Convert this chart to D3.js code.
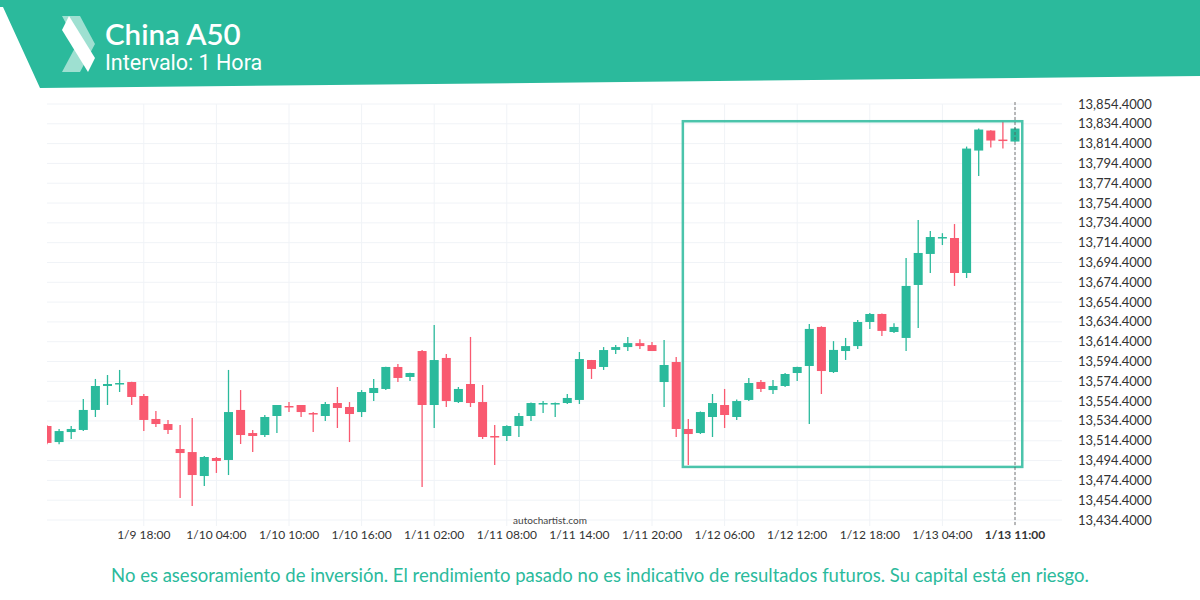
<!DOCTYPE html>
<html>
<head>
<meta charset="utf-8">
<script src="https://cdn.jsdelivr.net/npm/d3@7"></script>
<style>
body { margin: 0; background: #fff; }
text { font-family: Lato, "Open Sans", sans-serif; }
</style>
</head>
<body>
<script>
// candles: open, high, low, close
var opens  = [13529.3,13513.1,13523.2,13525.3,13545.5,13569.7,13571.7,13573.7,13559.6,13536.4,13531.3,13506.1,13503,13478.8,13497,13495,13545.5,13522.2,13520.2,13539.4,13549.5,13550.5,13542.4,13539.4,13552.5,13548.5,13543.4,13562.6,13566.7,13588.9,13578.8,13605,13550.5,13598,13553.5,13571.7,13553.5,13519.2,13519.2,13529.3,13539.4,13551.5,13551.5,13552.5,13555.6,13595.9,13588.9,13606.1,13609,13613,13611,13573.7,13593.9,13526.3,13522.2,13538.4,13550.5,13538.4,13555.6,13573.7,13565.6,13569.7,13582.8,13589.9,13629.3,13583.8,13605,13610,13634.3,13642.4,13624.2,13618.2,13671.7,13703,13719.1,13719.1,13683.8,13807.4,13827.6,13818.5,13816.5];
var highs  = [13530,13526.3,13529.3,13556.5,13576.8,13580.8,13585.9,13574,13561.6,13544.4,13535.4,13530.3,13537.4,13499,13498,13585.9,13565.6,13525.3,13540.4,13550.5,13553.5,13550.5,13543.4,13553.5,13568.7,13553.5,13565.6,13576.8,13589,13592,13583,13606,13631.3,13602,13568.7,13619.2,13570.7,13530.3,13530,13542.4,13553,13554.5,13553,13561.6,13604,13596,13609,13611,13619.2,13617,13614,13616.1,13599,13536.4,13544,13561.6,13566.7,13556,13577.8,13575.7,13575.7,13582.8,13589,13632.3,13630,13615,13618.2,13636.3,13643.4,13643,13633,13698.9,13737.3,13726.2,13724,13733.2,13811.4,13829.6,13828,13836.6,13830.6];
var lows   = [13511,13511,13516.2,13524.3,13538.4,13550.5,13563.6,13550.5,13524.3,13528.3,13521.2,13456.6,13448.5,13468.7,13481.9,13479.8,13511.1,13503,13518.2,13522.2,13543.4,13538.4,13523.2,13534.4,13527.3,13513.1,13538.4,13554.5,13565.6,13573.7,13574.7,13467.7,13527.3,13548.5,13552.5,13548.5,13516.2,13489.9,13514.2,13518.2,13534.4,13542.4,13538.4,13551.5,13551.5,13576.8,13585.9,13602,13605,13607,13605,13548.5,13518.2,13489.9,13521.2,13518.2,13527.3,13535.4,13554.5,13563.6,13561.6,13568.7,13574.7,13531.3,13561.6,13582.8,13596,13607,13627.3,13620.2,13623.2,13605,13628.3,13683.8,13712,13670.7,13678.7,13781.7,13810.4,13809.4,13816];
var closes = [13512.2,13524.2,13526.3,13545.5,13569.7,13571.7,13572.7,13558.6,13535.4,13531.3,13525.3,13502,13479.8,13498,13494,13543.4,13520.2,13519.2,13538.4,13550.5,13548.5,13543.4,13541.4,13551.5,13547.5,13541.4,13563.6,13567.7,13588.9,13577.8,13582.8,13550.5,13595.9,13554.5,13566.7,13552.5,13518.2,13518.2,13529.3,13539.4,13552.5,13552.5,13552.5,13557.6,13596.9,13586.9,13606,13609,13613,13610,13605,13590.9,13526.3,13521.2,13543.4,13552.5,13540.4,13554.5,13572.7,13566.7,13569.7,13581.8,13588.9,13627.3,13584.8,13606.1,13610,13634.3,13642.4,13625.3,13629.3,13670.7,13704,13720.1,13720.1,13683.8,13809.4,13828.6,13817.5,13817.5,13829.6];
var xTickIdx = [8,14,20,26,32,38,44,50,56,62,68,74,80];
var xTickLabels = ["1/9 18:00","1/10 04:00","1/10 10:00","1/10 16:00","1/11 02:00","1/11 08:00","1/11 14:00","1/11 20:00","1/12 06:00","1/12 12:00","1/12 18:00","1/13 04:00","1/13 11:00"];
var yTicks = [13434.4,13454.4,13474.4,13494.4,13514.4,13534.4,13554.4,13574.4,13594.4,13614.4,13634.4,13654.4,13674.4,13694.4,13714.4,13734.4,13754.4,13774.4,13794.4,13814.4,13834.4,13854.4];
var boxRange = [52.55, 80.6, 13488, 13837];

var W = 1200, H = 600;
var green = "#2bba9c", red = "#f95a70";
var svg = d3.select("body").append("svg").attr("width", W).attr("height", H);

svg.append("defs").append("clipPath").attr("id", "plot")
  .append("rect").attr("x", 47).attr("y", 95).attr("width", 1015).attr("height", 440);

// header
svg.append("polygon").attr("points", "0,0 1200,0 1200,76 40,88 3,7 0,7").attr("fill", green);
svg.append("polygon").attr("points", "62,16 80,16 95,44 77,44").attr("fill", "#9ee0d1");
svg.append("polygon").attr("points", "77,44 95,44 80,72 62,72").attr("fill", "#9ee0d1");
svg.append("polygon").attr("points", "62,30 69,16 95,58 88,72").attr("fill", "#fff");
svg.append("text").attr("x", 105).attr("y", 45).attr("fill", "#fff").attr("font-size", 29.5).attr("font-weight", 600).text("China A50");
svg.append("text").attr("x", 105).attr("y", 70).attr("fill", "#fff").attr("font-size", 21.5)
  .style("font-family", "Roboto, sans-serif").text("Intervalo: 1 Hora");

var x = d3.scaleLinear().domain([0, 80]).range([47, 1015]);
var y = d3.scaleLinear().domain([13434.4, 13854.4]).range([520, 104]);
var bw = 9;

// grid
svg.append("g").selectAll("line").data(yTicks).enter().append("line")
  .attr("x1", 47).attr("x2", 1062).attr("y1", d => y(d)).attr("y2", d => y(d))
  .attr("stroke", "#f0f3f7");
svg.append("g").selectAll("line").data(xTickIdx).enter().append("line")
  .attr("x1", d => x(d)).attr("x2", d => x(d)).attr("y1", 104).attr("y2", 526)
  .attr("stroke", "#f0f3f7");

svg.append("g").selectAll("text").data(yTicks).enter().append("text")
  .attr("x", 1078).attr("y", d => y(d) + 4.5).attr("font-size", 13).attr("fill", "#333")
  .text(d => d3.format(",.4f")(d));
svg.append("g").selectAll("text").data(xTickLabels).enter().append("text")
  .attr("x", (d, i) => x(xTickIdx[i])).attr("y", 539).attr("text-anchor", "middle")
  .attr("font-size", 12).attr("fill", "#333")
  .attr("font-weight", (d, i) => i === xTickLabels.length - 1 ? 700 : 400)
  .text(d => d);

svg.append("text").attr("x", 550).attr("y", 524).attr("text-anchor", "middle")
  .attr("font-size", 10).attr("fill", "#444").text("autochartist.com");

// candles
var idx = d3.range(opens.length);
var c = svg.append("g").attr("clip-path", "url(#plot)").selectAll("g").data(idx).enter().append("g")
  .attr("fill", i => closes[i] >= opens[i] ? green : red)
  .attr("stroke", i => closes[i] >= opens[i] ? green : red);
c.append("line").attr("x1", i => x(i)).attr("x2", i => x(i))
  .attr("y1", i => y(highs[i])).attr("y2", i => y(lows[i])).attr("stroke-width", 1.3);
c.append("rect").attr("x", i => x(i) - bw / 2).attr("width", bw)
  .attr("y", i => y(Math.max(opens[i], closes[i])))
  .attr("height", i => Math.max(1.5, Math.abs(y(opens[i]) - y(closes[i]))))
  .attr("stroke", "none");

// pattern box
svg.append("rect").attr("x", x(boxRange[0])).attr("y", y(boxRange[3]))
  .attr("width", x(boxRange[1]) - x(boxRange[0])).attr("height", y(boxRange[2]) - y(boxRange[3]))
  .attr("fill", "none").attr("stroke", green).attr("stroke-width", 2.5).attr("opacity", 0.85);

svg.append("line").attr("x1", x(80)).attr("x2", x(80)).attr("y1", 102).attr("y2", 526)
  .attr("stroke", "#555").attr("stroke-dasharray", "3,2").attr("stroke-width", 0.8);

svg.append("text").attr("x", 600).attr("y", 582).attr("text-anchor", "middle")
  .attr("font-size", 18.5).attr("fill", green)
  .text("No es asesoramiento de inversión. El rendimiento pasado no es indicativo de resultados futuros. Su capital está en riesgo.");
</script>
</body>
</html>
